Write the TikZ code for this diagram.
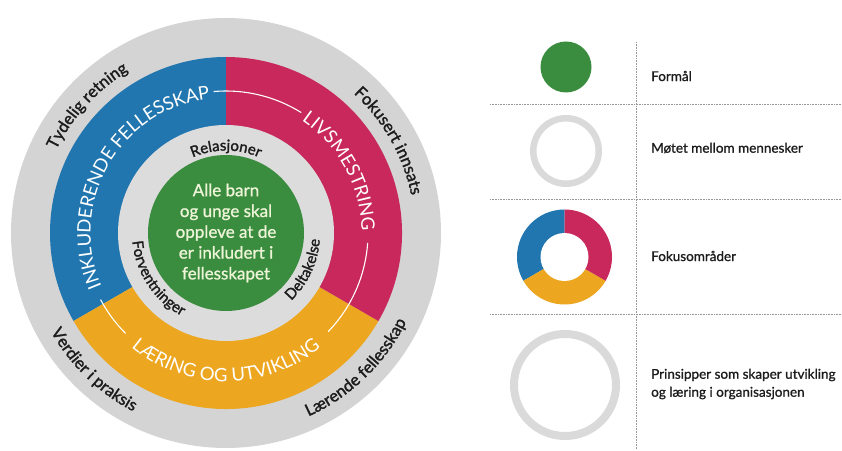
\documentclass[tikz,border=0pt]{standalone}
\usepackage{fontspec}
\setmainfont{Lato}
\newfontfamily\lblfont{Lato}[FakeBold=1.6]
\newfontfamily\midfont{Lato}[FakeBold=1.0]
\usetikzlibrary{decorations.text}
\definecolor{cblue}{RGB}{33,118,175}
\definecolor{cred}{RGB}{200,40,92}
\definecolor{cyellow}{RGB}{236,166,32}
\definecolor{cgreen}{RGB}{58,140,62}
\definecolor{cgray}{RGB}{212,212,212}
\definecolor{cgrayin}{RGB}{220,220,220}
\definecolor{cringgray}{RGB}{218,218,218}
\definecolor{ctext}{RGB}{238,244,216}
\definecolor{cdark}{RGB}{28,28,28}
\definecolor{cline}{RGB}{150,150,150}
% clockwise arc text (tops outward): #1 centre angle, #2 radius, #3 font, #4 colour, #5 text
\newcommand\cwarctext[5]{%
  \path[decorate,decoration={text along path,text align=center,text color=#4,
    text={|#3|#5}}]
    (C) ++(#1+90:#2) arc[start angle=#1+90,end angle=#1-90,radius=#2];}
% counter-clockwise arc text (tops inward)
\newcommand\ccwarctext[5]{%
  \path[decorate,decoration={text along path,text align=center,text color=#4,
    text={|#3|#5}}]
    (C) ++(#1-90:#2) arc[start angle=#1-90,end angle=#1+90,radius=#2];}
\newcommand\bandfont{\fontsize{18.5}{18.5}\selectfont}
\newcommand\innerfont{\lblfont\fontsize{15}{15}\selectfont}
\newcommand\outerfont{\lblfont\fontsize{16.5}{16.5}\selectfont}
\begin{document}
\begin{tikzpicture}[x=1pt,y=1pt,
  whiteline/.style={white,line width=1.1pt},
  legendtext/.style={anchor=west,text=cdark,font=\midfont\fontsize{13.5}{18}\selectfont,align=left,inner sep=0pt},
  sepline/.style={cline,densely dotted,line width=0.6pt}]
\useasboundingbox (0,0) rectangle (842,450);
\coordinate (C) at (226,217);
% outer ring
\fill[cgray] (C) circle[radius=215];
% focus sectors
\fill[cblue] (C) -- ++(90:176) arc[start angle=90,end angle=210,radius=176] -- cycle;
\fill[cyellow] (C) -- ++(210:176) arc[start angle=210,end angle=330,radius=176] -- cycle;
\fill[cred] (C) -- ++(-30:176) arc[start angle=-30,end angle=90,radius=176] -- cycle;
% inner grey ring
\fill[cgrayin] (C) circle[radius=108];
% purpose
\node[circle,fill=cgreen,minimum size=156pt,inner sep=0pt] (formaal) at (C) {};
\node[align=center,text=ctext,font=\midfont\fontsize{17}{20.8}\selectfont] (formaaltext) at (C)
  {Alle barn\\og unge skal\\oppleve at de\\er inkludert i\\fellesskapet};
% white connecting arcs
\draw[whiteline] (C) ++(95:142) arc[start angle=95,end angle=58,radius=142];
\draw[whiteline] (C) ++(-4:142) arc[start angle=-4,end angle=-44,radius=142];
\draw[whiteline] (C) ++(225:142) arc[start angle=225,end angle=208,radius=142];
% focus labels
\cwarctext{150}{135.5}{\bandfont}{white}{INKLUDERENDE FELLESSKAP}
\cwarctext{28.5}{135.5}{\bandfont}{white}{LIVSMESTRING}
\ccwarctext{270}{148.5}{\bandfont}{white}{LÆRING OG UTVIKLING}
% meeting labels
\cwarctext{90}{82.5}{\innerfont}{cdark}{Relasjoner}
\ccwarctext{213.5}{94}{\innerfont}{cdark}{Forventninger}
\ccwarctext{-25}{94}{\innerfont}{cdark}{Deltakelse}
% principle labels
\cwarctext{137.5}{189}{\outerfont}{cdark}{Tydelig retning}
\cwarctext{29.5}{189}{\outerfont}{cdark}{Fokusert innsats}
\ccwarctext{226}{201}{\outerfont}{cdark}{Verdier i praksis}
\ccwarctext{314}{201}{\outerfont}{cdark}{Lærende fellesskap}
% legend separators
\coordinate (vtop) at (636,408);
\coordinate (vbot) at (636,0);
\draw[sepline] (vtop) -- (vbot);
\coordinate (h1l) at (490,346); \coordinate (h1r) at (842,346);
\coordinate (h2l) at (490,251); \coordinate (h2r) at (842,251);
\coordinate (h3l) at (490,136); \coordinate (h3r) at (842,136);
\draw[sepline] (h1l) -- (h1r);
\draw[sepline] (h2l) -- (h2r);
\draw[sepline] (h3l) -- (h3r);
% legend symbols
\fill[cgreen] (566,383) circle[radius=25.5];
\fill[cringgray,even odd rule] (566,299) circle[radius=36] circle[radius=29.5];
\coordinate (D) at (564.5,193);
\fill[cblue] (D) -- ++(90:47.5) arc[start angle=90,end angle=210,radius=47.5] -- cycle;
\fill[cyellow] (D) -- ++(210:47.5) arc[start angle=210,end angle=330,radius=47.5] -- cycle;
\fill[cred] (D) -- ++(-30:47.5) arc[start angle=-30,end angle=90,radius=47.5] -- cycle;
\fill[white] (D) circle[radius=24];
\fill[cringgray,even odd rule] (565,65) circle[radius=55] circle[radius=47];
% legend texts
\node[legendtext] (l1) at (651,374) {Formål};
\node[legendtext] (l2) at (651,302) {Møtet mellom mennesker};
\node[legendtext] (l3) at (651,194) {Fokusområder};
\node[legendtext] (l4) at (651,66) {Prinsipper som skaper utvikling\\og læring i organisasjonen};
\end{tikzpicture}
\end{document}
